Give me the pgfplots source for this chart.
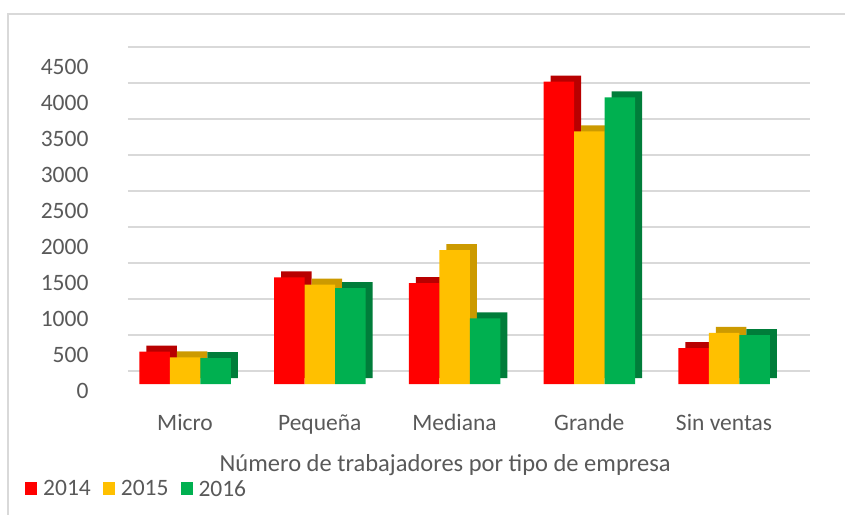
\documentclass[border=0pt]{standalone}
\usepackage{fontspec}
\setmainfont{Carlito}
\usepackage{pgfplots}
\pgfplotsset{compat=1.18}
\definecolor{txt}{HTML}{595959}
\definecolor{grd}{HTML}{D9D9D9}
\definecolor{cR}{HTML}{FF0000}
\definecolor{cRd}{HTML}{B80000}
\definecolor{cY}{HTML}{FFC000}
\definecolor{cYd}{HTML}{CC9A00}
\definecolor{cG}{HTML}{00B050}
\definecolor{cGd}{HTML}{007D3A}
\begin{document}
\begin{tikzpicture}
\path[use as bounding box] (-128pt,-130pt) rectangle (717pt,384pt);
\draw[grd, line width=1.5pt] (-120pt,-131pt) -- (-120pt,370pt) -- (718pt,370pt);
\begin{axis}[
  scale only axis, width=682pt, height=324pt,
  xmin=-0.423, xmax=4.638, ymin=0, ymax=4500,
  axis line style={draw=none}, major tick length=0pt,
  ytick={0,500,...,4500},
  xtick={0,...,4}, xticklabels={Micro,Pequeña,Mediana,Grande,Sin ventas},
  ymajorgrids, major grid style={grd, line width=1.3pt, yshift=13pt},
  tick label style={font=\fontsize{23.5}{28}\selectfont, text=txt},
  /pgf/number format/assume math mode=true,
  /pgf/number format/1000 sep={},
  yticklabel style={xshift=-36pt, yshift=-7pt},
  xticklabel style={anchor=base, yshift=-46pt},
  xlabel={Número de trabajadores por tipo de empresa},
  xlabel style={at={(axis description cs:0.465,0)}, anchor=base, yshift=-87pt, font=\fontsize{24.5}{29}\selectfont, text=txt},
  legend columns=3,
  legend style={at={(axis description cs:-0.151,-0.324)}, anchor=west, draw=none, fill=none,
    font=\fontsize{23.5}{28}\selectfont, inner sep=0pt,
    nodes={text=txt, inner sep=0pt},
    /tikz/every odd column/.append style={column sep=6pt},
    /tikz/every even column/.append style={column sep=12pt}},
  legend image code/.code={\fill[#1] (0pt,-6.5pt) rectangle (12pt,6.5pt);},
]
% 2014
\addplot[ybar, bar width=30.5pt, bar shift=-30.5pt, fill=cRd, draw=none, xshift=7pt, yshift=6pt, forget plot]
  coordinates {(0,450) (1,1480) (2,1400) (3,4200) (4,500)};
\addplot[ybar, bar width=30.5pt, bar shift=-30.5pt, fill=cR, draw=none]
  coordinates {(0,450) (1,1480) (2,1400) (3,4200) (4,500)};
% 2015
\addplot[ybar, bar width=30.5pt, bar shift=0pt, fill=cYd, draw=none, xshift=7pt, yshift=6pt, forget plot]
  coordinates {(0,370) (1,1380) (2,1860) (3,3510) (4,710)};
\addplot[ybar, bar width=30.5pt, bar shift=0pt, fill=cY, draw=none]
  coordinates {(0,370) (1,1380) (2,1860) (3,3510) (4,710)};
% 2016
\addplot[ybar, bar width=30.5pt, bar shift=30.5pt, fill=cGd, draw=none, xshift=7pt, yshift=6pt, forget plot]
  coordinates {(0,360) (1,1330) (2,910) (3,3980) (4,680)};
\addplot[ybar, bar width=30.5pt, bar shift=30.5pt, fill=cG, draw=none]
  coordinates {(0,360) (1,1330) (2,910) (3,3980) (4,680)};
\legend{2014,2015,2016}
\end{axis}
\end{tikzpicture}
\end{document}
